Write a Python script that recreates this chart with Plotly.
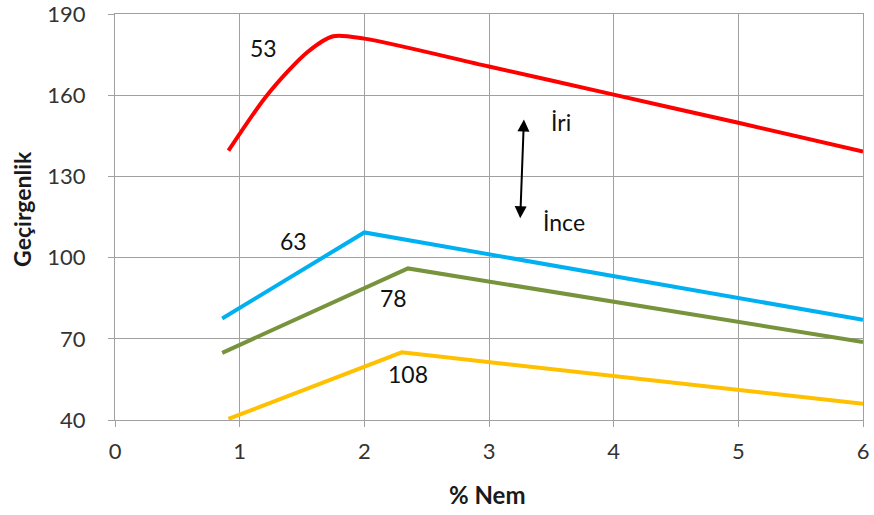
import plotly.graph_objects as go

# Data
red_x = [0.91, 1.22, 1.54, 1.75, 2.0, 3.0, 4.0, 5.0, 6.0]
red_y = [139.5, 160.0, 175.8, 181.8, 180.9, 170.6, 160.2, 149.8, 139.2]

blue_x = [0.86, 2.0, 6.0]
blue_y = [77.5, 109.3, 77.0]

green_x = [0.86, 2.35, 6.0]
green_y = [64.8, 96.0, 68.8]

yellow_x = [0.91, 2.3, 6.0]
yellow_y = [40.4, 65.0, 46.0]

labels = ["53", "63", "78", "108"]
label_x = [1.19, 1.43, 2.23, 2.35]
label_y = [177.5, 106, 85, 57]

x_ticks = [0, 1, 2, 3, 4, 5, 6]
y_ticks = [40, 70, 100, 130, 160, 190]

FONT = "Lato, 'Open Sans', sans-serif"
LW = 4

fig = go.Figure()
fig.add_trace(go.Scatter(x=red_x, y=red_y, mode="lines",
                         line=dict(color="#FF0000", width=LW, shape="spline", smoothing=0.8)))
fig.add_trace(go.Scatter(x=blue_x, y=blue_y, mode="lines",
                         line=dict(color="#00B0F0", width=LW)))
fig.add_trace(go.Scatter(x=green_x, y=green_y, mode="lines",
                         line=dict(color="#77933C", width=LW)))
fig.add_trace(go.Scatter(x=yellow_x, y=yellow_y, mode="lines",
                         line=dict(color="#FFC000", width=LW)))

annotations = []
for t, xx, yy in zip(labels, label_x, label_y):
    annotations.append(dict(x=xx, y=yy, text=t, showarrow=False,
                            font=dict(family=FONT, size=23, color="#111111")))

# double-headed arrow
annotations.append(dict(x=3.28, y=151, ax=3.25, ay=114, xref="x", yref="y",
                        axref="x", ayref="y", text="", showarrow=True,
                        arrowhead=2, startarrowhead=2, arrowside="end+start",
                        arrowwidth=2, arrowsize=1.2, startarrowsize=1.2,
                        arrowcolor="#000000"))
annotations.append(dict(x=3.58, y=150, text="İri", showarrow=False, xanchor="center",
                        font=dict(family=FONT, size=23, color="#111111")))
annotations.append(dict(x=3.6, y=113, text="İnce", showarrow=False, xanchor="center",
                        font=dict(family=FONT, size=23, color="#111111")))

# axis titles
annotations.append(dict(x=0, y=0.52, xref="paper", yref="paper", xshift=-93,
                        xanchor="center", yanchor="middle",
                        text="<b>Geçirgenlik</b>", textangle=-90, showarrow=False,
                        font=dict(family=FONT, size=23, color="#1a1a1a")))
annotations.append(dict(x=0.498, y=0, xref="paper", yref="paper", yshift=-74,
                        xanchor="center", yanchor="middle",
                        text="<b>% Nem</b>", showarrow=False,
                        font=dict(family=FONT, size=24, color="#1a1a1a")))

fig.update_layout(
    width=874, height=515,
    margin=dict(l=115, r=11, t=14, b=95, autoexpand=False),
    plot_bgcolor="white", paper_bgcolor="white",
    showlegend=False,
    annotations=annotations,
    font=dict(family=FONT, size=17, color="#333333"),
)
fig.update_xaxes(range=[0, 6], tickvals=x_ticks, showgrid=True, gridcolor="#A0A0A0",
                 gridwidth=1, zeroline=False, showline=True, linecolor="#A0A0A0",
                 ticks="outside", ticklen=6, tickcolor="#A0A0A0", mirror=True,
                 automargin=False, ticklabeloverflow="allow", ticklabelstandoff=6,
                 tickfont=dict(family=FONT, size=22, color="#333333"))
fig.update_yaxes(range=[40, 190], tickvals=y_ticks, showgrid=True, gridcolor="#A0A0A0",
                 gridwidth=1, zeroline=False, showline=True, linecolor="#A0A0A0",
                 ticks="outside", ticklen=6, tickcolor="#A0A0A0", mirror=True,
                 automargin=False, ticklabeloverflow="allow", ticklabelstandoff=18,
                 tickfont=dict(family=FONT, size=22, color="#333333"))

fig.write_html("out.html", config={"displayModeBar": False},
               post_script="document.body.style.margin='0';")
